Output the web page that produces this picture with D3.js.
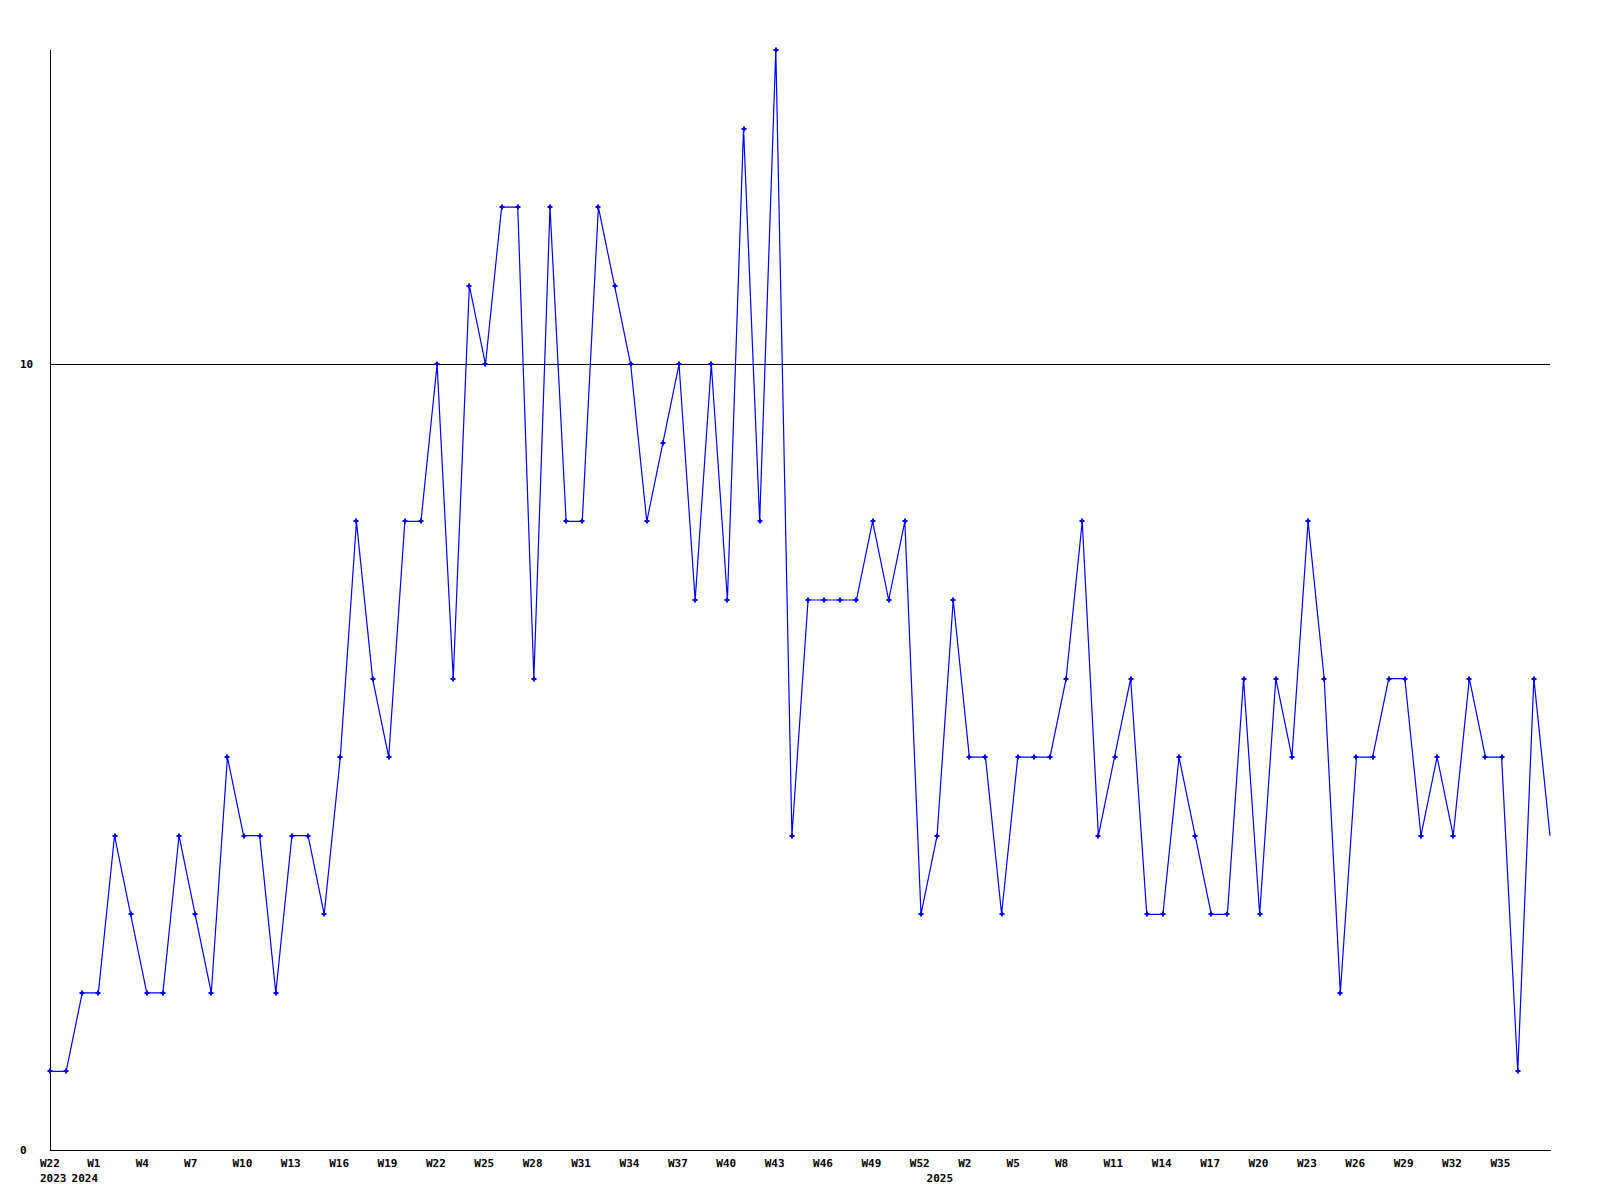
<!DOCTYPE html>
<html>
<head>
<meta charset="utf-8">
<script src="https://cdn.jsdelivr.net/npm/d3@7"></script>
<style>
  html, body { margin: 0; padding: 0; background: #fff; }
  svg text { font-family: "DejaVu Sans Mono", monospace; font-weight: bold; font-size: 11px; fill: #000; }
</style>
</head>
<body>
<svg id="chart" width="1600" height="1200"></svg>
<script>
// ---- data ----
const values = [
  1, 1, 2, 2, 4, 3, 2, 2, 4, 3,
  2, 5, 4, 4, 2, 4, 4, 3, 5, 8,
  6, 5, 8, 8, 10, 6, 11, 10, 12, 12,
  6, 12, 8, 8, 12, 11, 10, 8, 9, 10,
  7, 10, 7, 13, 8, 14, 4, 7, 7, 7,
  7, 8, 7, 8, 3, 4, 7, 5, 5, 3,
  5, 5, 5, 6, 8, 4, 5, 6, 3, 3,
  5, 4, 3, 3, 6, 3, 6, 5, 8, 6,
  2, 5, 5, 6, 6, 4, 5, 4, 6, 5,
  5, 1, 6, 4
];
const weekLabels = ["W22", "W1", "W4", "W7", "W10", "W13", "W16", "W19", "W22", "W25",
  "W28", "W31", "W34", "W37", "W40", "W43", "W46", "W49", "W52", "W2",
  "W5", "W8", "W11", "W14", "W17", "W20", "W23", "W26", "W29", "W32", "W35"];
const weekLabelPos = [-0.62, 2.31, 5.31, 8.31, 11.31, 14.31, 17.31, 20.31, 23.31, 26.31,
  29.31, 32.31, 35.31, 38.31, 41.31, 44.31, 47.31, 50.31, 53.31, 56.31,
  59.31, 62.31, 65.31, 68.31, 71.31, 74.31, 77.31, 80.31, 83.31, 86.31, 89.31];
const yearLabels = ["2023", "2024", "2025"];
const yearLabelPos = [-0.62, 1.34, 54.35];
const yTicks = [0, 10];

// ---- layout ----
const mLeft = 50, mRight = 1550, mTop = 50, mBottom = 1150;
const svg = d3.select("#chart");
svg.append("rect").attr("width", 1600).attr("height", 1200).attr("fill", "#fff");

const x = d3.scaleLinear().domain([0, values.length - 1]).range([mLeft, mRight]);
const y = d3.scaleLinear().domain([0, 14]).range([mBottom, mTop]);

// gridline at 10 + axes
svg.selectAll("line.grid").data(yTicks.filter(d => d > 0)).enter().append("line")
  .attr("x1", mLeft).attr("x2", mRight)
  .attr("y1", d => Math.round(y(d)) + 0.5).attr("y2", d => Math.round(y(d)) + 0.5)
  .attr("stroke", "#000").attr("stroke-width", 1).attr("shape-rendering", "crispEdges");

svg.append("line").attr("x1", mLeft + 0.5).attr("x2", mLeft + 0.5).attr("y1", mTop).attr("y2", mBottom + 1)
  .attr("stroke", "#000").attr("shape-rendering", "crispEdges");
svg.append("line").attr("x1", mLeft).attr("x2", mRight + 1).attr("y1", mBottom + 0.5).attr("y2", mBottom + 0.5)
  .attr("stroke", "#000").attr("shape-rendering", "crispEdges");

// y labels
svg.selectAll("text.ylab").data(yTicks).enter().append("text")
  .attr("x", 20).attr("y", d => y(d) + 4).text(d => d);

// x labels
svg.selectAll("text.wlab").data(weekLabels).enter().append("text")
  .attr("x", (d, i) => Math.max(40, x(weekLabelPos[i])))
  .attr("y", 1166.5).text(d => d);
svg.selectAll("text.yrlab").data(yearLabels).enter().append("text")
  .attr("x", (d, i) => Math.max(40, x(yearLabelPos[i])))
  .attr("y", 1181.5).text(d => d);

// line
const line = d3.line().x((d, i) => x(i)).y(d => y(d));
svg.append("path").datum(values).attr("d", line)
  .attr("fill", "none").attr("stroke", "#0000ff").attr("stroke-width", 1.2);

// markers (no marker at the last, partial point)
svg.selectAll("path.mk").data(values.slice(0, values.length - 1)).enter().append("path")
  .attr("transform", (d, i) => `translate(${Math.round(x(i))},${Math.round(y(d))})`)
  .attr("d", "M-2.5,0H2.5M0,-2.5V2.5")
  .attr("stroke", "#0000ff").attr("stroke-width", 2).attr("fill", "none");
</script>
</body>
</html>
